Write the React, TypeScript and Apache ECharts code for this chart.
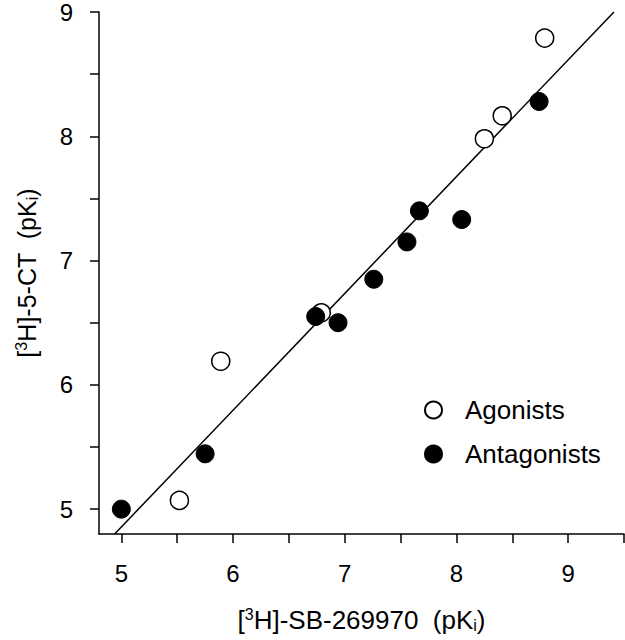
import React, { useEffect, useRef } from "react";
import * as echarts from "echarts";

const agonistX = [5.52, 5.89, 6.79, 8.25, 8.41, 8.79];
const agonistY = [5.07, 6.19, 6.58, 7.98, 8.165, 8.79];
const antagonistX = [5.0, 5.75, 6.74, 6.94, 7.26, 7.557, 7.668, 8.047, 8.74];
const antagonistY = [5.0, 5.445, 6.55, 6.5, 6.85, 7.15, 7.4, 7.33, 8.28];
const fitX = [4.94, 9.41];
const fitY = [4.8, 9.0];
const xTicks = [5, 5.5, 6, 6.5, 7, 7.5, 8, 8.5, 9, 9.5];
const xLabels = [5, 6, 7, 8, 9];
const yTicks = [5, 5.5, 6, 6.5, 7, 7.5, 8, 8.5, 9];
const yLabels = [5, 6, 7, 8, 9];

const FONT = "'Liberation Sans', Arial, sans-serif";
const FS = 24;
const FT = 26;

export default function App() {
  const ref = useRef<HTMLDivElement>(null);
  useEffect(() => {
    if (!ref.current) return;
    const chart = echarts.init(ref.current, null, { renderer: "svg" });
    const zip = (xs: number[], ys: number[]) => xs.map((x, i) => [x, ys[i]]);
    const axisLineStyle = { color: "#000", width: 1.5 };
    const rich = {
      sup: { fontSize: 16, verticalAlign: "top", padding: [0, 0, 11, 0], fontFamily: FONT, color: "#000" },
      sub: { fontSize: 16, verticalAlign: "bottom", padding: [11, 0, 0, 0], fontFamily: FONT, color: "#000" },
    };
    chart.setOption({
      animation: false,
      backgroundColor: "#fff",
      textStyle: { fontFamily: FONT, color: "#000" },
      grid: { left: 99, right: 1, top: 11, bottom: 106 },
      legend: {
        orient: "vertical",
        left: 419,
        top: 392,
        itemWidth: 17,
        itemHeight: 17,
        itemGap: 18,
        data: ["Agonists", "Antagonists"],
        textStyle: { fontSize: FT, fontFamily: FONT, color: "#000", padding: [0, 0, 0, 18] },
      },
      xAxis: {
        type: "value",
        min: 4.8,
        max: 9.5,
        splitLine: { show: false },
        axisLine: { lineStyle: axisLineStyle },
        axisTick: { customValues: xTicks, length: 9, lineStyle: axisLineStyle },
        axisLabel: { customValues: xLabels, fontSize: FS, color: "#000", margin: 27, fontFamily: FONT },
        name: "[{sup|3}H]-SB-269970  (pK{sub|i})",
        nameLocation: "middle",
        nameGap: 72,
        nameTextStyle: { fontSize: FT, color: "#000", fontFamily: FONT, rich },
      },
      yAxis: {
        type: "value",
        min: 4.8,
        max: 9,
        splitLine: { show: false },
        axisLine: { lineStyle: axisLineStyle },
        axisTick: { customValues: yTicks, length: 9, lineStyle: axisLineStyle },
        axisLabel: { customValues: yLabels, fontSize: FS, color: "#000", margin: 26, fontFamily: FONT },
        name: "[{sup|3}H]-5-CT  (pK{sub|i})",
        nameLocation: "middle",
        nameRotate: 90,
        nameGap: 59,
        nameTextStyle: { fontSize: 25, color: "#000", fontFamily: FONT, rich },
      },
      series: [
        {
          name: "fit",
          type: "line",
          data: zip(fitX, fitY),
          symbol: "none",
          lineStyle: { color: "#000", width: 1.5 },
          z: 1,
          silent: true,
        },
        {
          name: "Agonists",
          type: "scatter",
          data: zip(agonistX, agonistY),
          symbol: "circle",
          symbolSize: 18,
          itemStyle: { color: "#fff", borderColor: "#000", borderWidth: 1.5, opacity: 1 },
          z: 2,
        },
        {
          name: "Antagonists",
          type: "scatter",
          data: zip(antagonistX, antagonistY),
          symbol: "circle",
          symbolSize: 18,
          itemStyle: { color: "#000", borderColor: "#000", borderWidth: 1, opacity: 1 },
          z: 3,
        },
      ],
    });
    return () => chart.dispose();
  }, []);
  return <div ref={ref} style={{ width: 625, height: 640, position: "absolute", left: 0, top: 0 }} />;
}
